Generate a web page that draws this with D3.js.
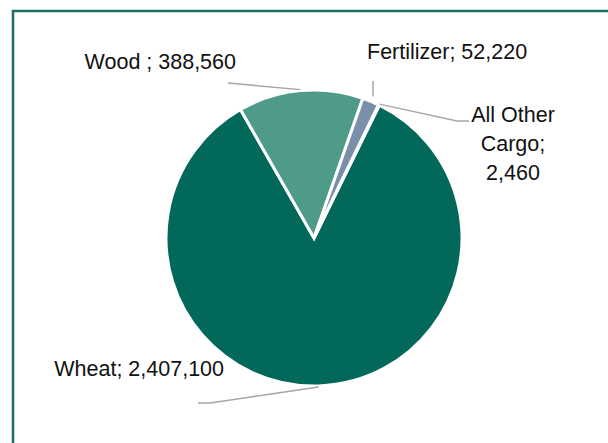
<!DOCTYPE html>
<html>
<head>
<meta charset="utf-8">
<script src="https://cdn.jsdelivr.net/npm/d3@7"></script>
<style>
  body { margin: 0; background: #fff; }
  svg text { font-family: "Liberation Sans", Arial, sans-serif; fill: #111; }
</style>
</head>
<body>
<div id="chart"></div>
<script>
const categories = ["Wheat", "Wood ", "Fertilizer", "All Other Cargo"];
const values = [2407100, 388560, 52220, 2460];
const colors = ["#02695a", "#4f9b8a", "#7a8faa", "#9aa9bb"];

const width = 608;
const height = 443;
const cx = 314;
const cy = 238;
const radius = 148;
const startDeg = 26.2;

// label layout: anchor point (text) and elbow for the leader line
const labelLayout = [
  { x: 224, y: 369, anchor: "end", elbow: [210, 403], end: [198, 403], lines: null },
  { x: 236, y: 62, anchor: "end", elbow: [228, 83], end: null, lines: null },
  { x: 367, y: 52, anchor: "start", elbow: [373, 81], end: null, lines: null, vertical: true },
  { x: 513, y: 115, anchor: "middle", elbow: [457, 121], end: [469, 121], lines: ["All Other", "Cargo;", "2,460"] },
];

const fmt = d3.format(",");

const svg = d3
  .select("#chart")
  .append("svg")
  .attr("width", width)
  .attr("height", height);

svg
  .append("rect")
  .attr("x", 13)
  .attr("y", 11)
  .attr("width", width)
  .attr("height", height)
  .attr("fill", "none")
  .attr("stroke", "#1b6f60")
  .attr("stroke-width", 2.5);

const pie = d3
  .pie()
  .sort(null)
  .startAngle((startDeg * Math.PI) / 180)
  .endAngle((startDeg * Math.PI) / 180 + 2 * Math.PI);

const arcs = pie(values);
const arc = d3.arc().innerRadius(0).outerRadius(radius);

const g = svg.append("g").attr("transform", `translate(${cx},${cy})`);

g.selectAll("path")
  .data(arcs)
  .join("path")
  .attr("d", arc)
  .attr("fill", (d, i) => colors[i])
  .attr("stroke", "#fff")
  .attr("stroke-width", 3)
  .attr("stroke-linejoin", "miter");

// leader lines
const edgePoint = (d, r) => {
  const a = (d.startAngle + d.endAngle) / 2;
  return [cx + r * Math.sin(a), cy - r * Math.cos(a)];
};

arcs.forEach((d, i) => {
  const l = labelLayout[i];
  const p0 = edgePoint(d, radius + 1);
  let pts;
  if (l.vertical) {
    pts = [[l.elbow[0], p0[1] - 4], l.elbow];
  } else {
    pts = [p0, l.elbow];
    if (l.end) pts.push(l.end);
  }
  svg
    .append("path")
    .attr("d", d3.line()(pts))
    .attr("fill", "none")
    .attr("stroke", "#a6a6a6")
    .attr("stroke-width", 1.5);
});

// labels
arcs.forEach((d, i) => {
  const l = labelLayout[i];
  const lines = l.lines || [`${categories[i]}; ${fmt(values[i])}`];
  const t = svg
    .append("text")
    .attr("x", l.x)
    .attr("y", l.y)
    .attr("text-anchor", l.anchor)
    .attr("dominant-baseline", "central")
    .style("font-size", "21.5px");
  lines.forEach((s, k) => {
    t.append("tspan").attr("x", l.x).attr("dy", k === 0 ? 0 : 29).text(s);
  });
});
</script>
</body>
</html>
